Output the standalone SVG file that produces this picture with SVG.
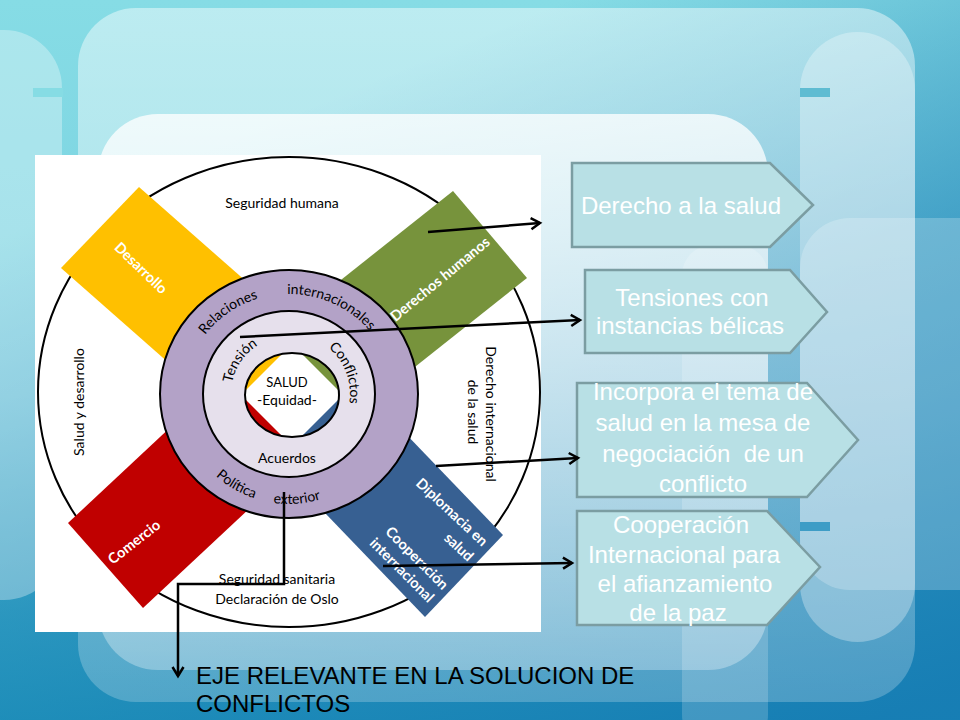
<svg xmlns="http://www.w3.org/2000/svg" width="960" height="720" viewBox="0 0 960 720">
<style>
.d{font-family:Lato,"Open Sans","Liberation Sans",sans-serif;font-size:14px;fill:#000}
.w{font-family:Lato,"Open Sans","Liberation Sans",sans-serif;font-size:14.5px;font-weight:bold;fill:#fff}
.bx{fill:#B8E0E5;stroke:#7B9DA2;stroke-width:2.5}
.bt{font-family:"Liberation Sans",Arial,sans-serif;font-size:24px;fill:#fff;text-anchor:middle;white-space:pre}
.ln{fill:none;stroke:#000;stroke-width:2.5}
.rg{stroke:#000;stroke-width:2}
</style>
<defs>
 <linearGradient id="bg" x1="0" y1="0" x2="0" y2="1">
  <stop offset="0" stop-color="#86DCE5"/>
  <stop offset="0.55" stop-color="#78D0E0"/>
  <stop offset="1" stop-color="#30B2C6"/>
 </linearGradient>
 <linearGradient id="bg2" x1="0.5" y1="0.05" x2="1" y2="0.95">
  <stop offset="0" stop-color="#1478B2" stop-opacity="0"/>
  <stop offset="0.45" stop-color="#1478B2" stop-opacity="0.55"/>
  <stop offset="1" stop-color="#1478B2" stop-opacity="0.9"/>
 </linearGradient>
 <linearGradient id="big" x1="0" y1="0" x2="0" y2="1">
  <stop offset="0" stop-color="#fff" stop-opacity="0.45"/>
  <stop offset="1" stop-color="#fff" stop-opacity="0.22"/>
 </linearGradient>
 <linearGradient id="inner" x1="0" y1="0" x2="0" y2="1">
  <stop offset="0" stop-color="#fff" stop-opacity="0.78"/>
  <stop offset="1" stop-color="#fff" stop-opacity="0.3"/>
 </linearGradient>
 <clipPath id="sc"><ellipse cx="292" cy="395" rx="47" ry="42"/></clipPath>
 <path id="pTop" d="M185,394 A104 100 0 0 1 393,394"/>
 <path id="pBot" d="M179,394 A110 110 0 0 0 399,394"/>
 <path id="pTen" d="M231,394 A58 58 0 0 1 347,394"/>
 <path id="pCon" d="M289,333 A61 61 0 0 1 289,455"/>
 <marker id="ah" markerWidth="14" markerHeight="14" refX="11" refY="7" orient="auto" markerUnits="userSpaceOnUse">
  <path d="M2,1.5 L11,7 L2,12.5" fill="none" stroke="#000" stroke-width="2.5"/>
 </marker>
</defs>

<g id="background">
 <rect width="960" height="720" fill="url(#bg)"/>
 <rect width="960" height="720" fill="url(#bg2)"/>
 <rect x="-60" y="30" width="122" height="570" rx="58" fill="#fff" fill-opacity="0.32"/>
 <rect x="33" y="88" width="30" height="9" fill="#86DCE4"/>
 <rect x="78" y="8" width="837" height="694" rx="58" fill="url(#big)"/>
 <rect x="800" y="32" width="115" height="610" rx="58" fill="#fff" fill-opacity="0.3"/>
 <rect x="800" y="218" width="220" height="372" rx="50" fill="#fff" fill-opacity="0.22"/>
 <rect x="800" y="88" width="30" height="9" fill="#5FBCD2"/>
 <rect x="800" y="522" width="30" height="9" fill="#3E9DC6"/>
 <rect x="682" y="245" width="86" height="500" rx="30" fill="#fff" fill-opacity="0.18"/>
 <rect x="98" y="114" width="670" height="556" rx="60" fill="url(#inner)"/>
</g>

<g id="panel">
 <rect x="35" y="155" width="506" height="477" fill="#fff"/>
 <ellipse cx="289" cy="392" rx="251" ry="235" fill="#fff" stroke="#000" stroke-width="2"/>
 <text class="d" x="282" y="208" text-anchor="middle">Seguridad humana</text>
 <text class="d" transform="translate(84,402) rotate(-90)" text-anchor="middle">Salud y desarrollo</text>
 <text class="d" transform="translate(486,414) rotate(90)" text-anchor="middle">Derecho internacional</text>
 <text class="d" transform="translate(468,412) rotate(90)" text-anchor="middle">de la salud</text>
 <text class="d" x="277" y="584" text-anchor="middle">Seguridad sanitaria</text>
 <text class="d" x="277" y="604" text-anchor="middle">Declaración de Oslo</text>
</g>

<g id="bar-desarrollo">
 <polygon points="139,187 61,268 250,434.5 328,353.5" fill="#FFC000"/>
 <text class="w" transform="translate(141,268) rotate(44)" text-anchor="middle" dy=".35em">Desarrollo</text>
</g>
<g id="bar-derechos">
 <polygon points="453,191 527,278 326,437.5 252,350.5" fill="#77933C"/>
 <text class="w" transform="translate(440,279) rotate(-39.4)" text-anchor="middle" dy=".35em">Derechos humanos</text>
</g>
<g id="bar-comercio">
 <polygon points="68,523 143,608 326.5,436.5 251.5,351.5" fill="#C00000"/>
 <text class="w" transform="translate(134,542) rotate(-38)" text-anchor="middle" dy=".35em">Comercio</text>
</g>
<g id="bar-diplomacia">
 <polygon points="503,535 425,617 250,435 328,353" fill="#376092"/>
 <text class="w" transform="translate(452,512) rotate(43)" text-anchor="middle" dy=".35em">Diplomacia en</text>
 <text class="w" transform="translate(459,547) rotate(43)" text-anchor="middle" dy=".35em">salud</text>
 <text class="w" transform="translate(417,558) rotate(45)" text-anchor="middle" dy=".35em">Cooperación</text>
 <text class="w" transform="translate(402,570) rotate(45)" text-anchor="middle" dy=".35em">internacional</text>
</g>

<g id="ring-relaciones">
 <ellipse class="rg" cx="289" cy="394" rx="129" ry="124" fill="#B3A2C7"/>
 <text class="d"><textPath href="#pTop" startOffset="30%" text-anchor="middle">Relaciones</textPath></text>
 <text class="d"><textPath href="#pTop" startOffset="64%" text-anchor="middle">internacionales</textPath></text>
 <text class="d"><textPath href="#pBot" startOffset="33.3%" text-anchor="middle">Política</textPath></text>
 <text class="d"><textPath href="#pBot" startOffset="52.4%" text-anchor="middle">exterior</textPath></text>
</g>

<g id="ring-tension">
 <ellipse class="rg" cx="289" cy="394" rx="86" ry="83" fill="#E6E0EC"/>
 <text class="d"><textPath href="#pTen" startOffset="19%" text-anchor="middle">Tensión</textPath></text>
 <text class="d"><textPath href="#pCon" startOffset="38.7%" text-anchor="middle">Conflictos</textPath></text>
 <text class="d" x="287" y="463" text-anchor="middle">Acuerdos</text>
</g>

<g id="salud">
 <ellipse cx="292" cy="395" rx="47" ry="42" fill="#fff"/>
 <g clip-path="url(#sc)">
  <rect x="240" y="350" width="52" height="45" fill="#FFC000"/>
  <rect x="292" y="350" width="52" height="45" fill="#77933C"/>
  <rect x="240" y="395" width="52" height="45" fill="#C00000"/>
  <rect x="292" y="395" width="52" height="45" fill="#376092"/>
  <polygon points="292,344 343,395 292,446 241,395" fill="#fff"/>
 </g>
 <ellipse class="rg" cx="292" cy="395" rx="47" ry="42" fill="none"/>
 <text class="d" x="287" y="387" text-anchor="middle" style="font-size:13px">SALUD</text>
 <text class="d" x="287" y="405" text-anchor="middle">-Equidad-</text>
</g>

<g id="box-derecho">
 <polygon class="bx" points="572,163 770,163 813,205 770,247 572,247"/>
 <text class="bt" x="681" y="214">Derecho a la salud</text>
</g>
<g id="box-tensiones">
 <polygon class="bx" points="585,270 790,270 827,312 790,353 585,353"/>
 <text class="bt" x="692" y="306">Tensiones con</text>
 <text class="bt" x="690" y="334">instancias bélicas</text>
</g>
<g id="box-incorpora">
 <polygon class="bx" points="577,383 807,383 858,440 807,497 577,497"/>
 <text class="bt" x="703" y="400">Incorpora el tema de</text>
 <text class="bt" x="703" y="431">salud en la mesa de</text>
 <text class="bt" x="703" y="462">negociación  de un</text>
 <text class="bt" x="703" y="492">conflicto</text>
</g>
<g id="box-cooperacion">
 <polygon class="bx" points="577,511 767,511 820,567 767,625 577,625"/>
 <text class="bt" x="681" y="533">Cooperación</text>
 <text class="bt" x="684" y="563">Internacional para</text>
 <text class="bt" x="685" y="592">el afianzamiento</text>
 <text class="bt" x="678" y="621">de la paz</text>
</g>

<g id="eje">
 <text x="196" y="684" style="font-family:'Liberation Sans',Arial,sans-serif;font-size:24px;fill:#000">EJE RELEVANTE EN LA SOLUCION DE</text>
 <text x="196" y="712" style="font-family:'Liberation Sans',Arial,sans-serif;font-size:24px;fill:#000">CONFLICTOS</text>
</g>

<g id="connectors">
 <line class="ln" x1="428" y1="232" x2="540" y2="223" marker-end="url(#ah)"/>
 <line class="ln" x1="240" y1="337" x2="580" y2="320" marker-end="url(#ah)"/>
 <line class="ln" x1="436" y1="466" x2="578" y2="458" marker-end="url(#ah)"/>
 <line class="ln" x1="383" y1="566" x2="572" y2="563" marker-end="url(#ah)"/>
 <polyline class="ln" points="284,492 284,584 178,584 178,676" marker-end="url(#ah)"/>
</g>
</svg>
